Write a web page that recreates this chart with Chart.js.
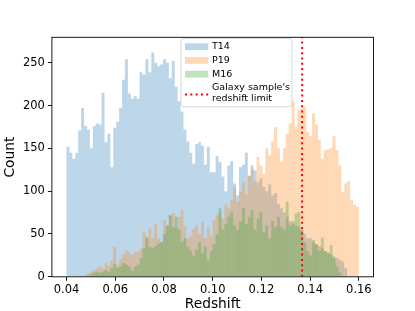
<!DOCTYPE html>
<html><head><meta charset="utf-8">
<script src="https://cdn.jsdelivr.net/npm/chart.js@4/dist/chart.umd.min.js"></script>
<style>html,body{margin:0;padding:0;background:#fff;}canvas{display:block;}</style>
</head><body>
<canvas id="c" width="415" height="311"></canvas>
<script>
// ---- data ----
const binStart = 0.04;
const binEnd = 0.16;
const t14 = [152,145,138,145,171,197,176,172,150,176,179,178,215,157,167,128,174,181,197,230,
             254,214,208,211,208,239,236,254,239,262,250,246,248,254,250,232,252,222,205,193,
             172,158,145,132,155,157,153,131,152,122,122,141,134,117,100,130,135,109,95,128,
             131,145,118,130,124,110,115,105,100,108,95,98,85,80,75,70,65,62,60,58,
             55,50,45,45,40,38,36,33,30,28,26,24,22,20,18,10,0,0,0,0];
const p19 = [0,0,0,0,0,1,2,4,6,8,10,12,9,16,13,19,35,14,21,26,
             31,28,26,29,29,33,52,47,56,45,62,45,41,66,60,72,75,58,70,78,
             60,45,48,56,60,50,64,45,58,48,66,72,75,68,84,80,90,105,88,100,
             110,96,118,125,112,140,130,120,150,142,158,175,150,134,150,167,179,205,175,195,
             197,199,169,164,191,178,160,138,148,149,150,164,148,130,99,109,112,90,84,82];
const m16 = [0,0,0,0,0,0,0,1,3,5,6,5,6,8,6,10,15,10,12,16,
             14,12,7,12,14,22,33,45,35,33,36,39,40,50,60,72,58,70,55,41,
             45,35,30,25,32,40,28,35,19,30,38,50,80,55,62,70,75,60,55,65,
             80,62,70,78,55,68,75,52,60,45,65,58,70,58,55,88,60,65,74,76,
             55,40,30,25,43,38,30,46,30,28,37,22,12,5,0,0,0,0,0,0];
const seriesNames = ['T14','P19','M16'];
const limitLabel = ["Galaxy sample's", 'redshift limit'];
const redshiftLimit = 0.1367;
const xTicks = [0.04,0.06,0.08,0.10,0.12,0.14,0.16];
const yTicks = [0,50,100,150,200,250];
const xLabel = 'Redshift';
const yLabel = 'Count';

// ---- build ----
const nBins = t14.length;
const binW = (binEnd - binStart) / nBins;
const centers = t14.map((_, i) => binStart + binW * (i + 0.5));
const toPts = arr => arr.map((v, i) => ({x: centers[i], y: v}));
const colors = ['rgba(31,119,180,0.3)','rgba(255,127,14,0.3)','rgba(44,160,44,0.3)'];
const FONT = "'DejaVu Sans', sans-serif";
const yMax = 279.7;

const framePlugin = {
  id: 'frame',
  afterDatasetsDraw(chart) {
    const {ctx, chartArea: a} = chart;
    ctx.save();
    ctx.strokeStyle = '#000';
    ctx.lineWidth = 0.9;
    ctx.strokeRect(a.left, a.top, a.right - a.left, a.bottom - a.top);
    ctx.restore();
  }
};

const legendPlugin = {
  id: 'mplLegend',
  afterDraw(chart) {
    const ctx = chart.ctx;
    ctx.save();
    const x0 = 181, y0 = 38.5, w = 111, h = 68.2, r = 2.5;
    ctx.beginPath();
    ctx.moveTo(x0 + r, y0);
    ctx.arcTo(x0 + w, y0, x0 + w, y0 + h, r);
    ctx.arcTo(x0 + w, y0 + h, x0, y0 + h, r);
    ctx.arcTo(x0, y0 + h, x0, y0, r);
    ctx.arcTo(x0, y0, x0 + w, y0, r);
    ctx.closePath();
    ctx.fillStyle = 'rgba(255,255,255,0.8)';
    ctx.fill();
    ctx.strokeStyle = 'rgba(204,204,204,0.8)';
    ctx.lineWidth = 1;
    ctx.stroke();
    ctx.font = '9.5px ' + FONT;
    ctx.fillStyle = '#000';
    ctx.textBaseline = 'middle';
    const cy = [46.7, 60.4, 74.2];
    seriesNames.forEach((n, i) => {
      ctx.fillStyle = colors[i];
      ctx.fillRect(185, cy[i] - 3.4, 23.3, 6.8);
      ctx.fillStyle = '#000';
      ctx.fillText(n, 212, cy[i]);
    });
    ctx.fillText(limitLabel[0], 212, 88);
    ctx.fillText(limitLabel[1], 212, 98.3);
    ctx.strokeStyle = 'red';
    ctx.lineWidth = 2;
    ctx.setLineDash([2, 3.3]);
    ctx.beginPath();
    ctx.moveTo(185, 94.5);
    ctx.lineTo(208.3, 94.5);
    ctx.stroke();
    ctx.restore();
  }
};

const barDs = (i, arr, ord) => ({
  type: 'bar', label: seriesNames[i], data: toPts(arr),
  backgroundColor: colors[i], borderWidth: 0, grouped: false, inflateAmount: 0,
  categoryPercentage: 1, barPercentage: 1, order: ord
});

new Chart(document.getElementById('c'), {
  type: 'bar',
  data: {
    datasets: [
      barDs(0, t14, 3),
      barDs(1, p19, 2),
      barDs(2, m16, 1),
      { type: 'line', label: limitLabel.join(' '),
        data: [{x: redshiftLimit, y: 0}, {x: redshiftLimit, y: yMax}],
        borderColor: 'red', borderWidth: 2, borderDash: [2, 3.3],
        pointRadius: 0, fill: false, order: 0 }
    ]
  },
  options: {
    responsive: false, animation: false, devicePixelRatio: 1,
    layout: {padding: {top: 37.3, right: 41.5, left: 0, bottom: 0}},
    plugins: {legend: {display: false}, tooltip: {enabled: false}},
    scales: {
      x: {
        type: 'linear', min: 0.034, max: 0.166, offset: false,
        grid: {display: true, offset: false, drawOnChartArea: false, drawTicks: true, tickLength: 4, color: '#000', lineWidth: 0.9},
        border: {display: false},
        ticks: {color: '#000', font: {family: FONT, size: 11.5}, padding: 2, maxRotation: 0,
                callback: v => v.toFixed(2)},
        title: {display: true, text: xLabel, color: '#000', font: {family: FONT, size: 13.8, lineHeight: 1}, padding: {top: 0, bottom: 0}},
        afterBuildTicks: s => { s.ticks = xTicks.map(v => ({value: v})); },
        afterFit: s => { s.height = 34.2; }
      },
      y: {
        type: 'linear', min: 0, max: yMax,
        grid: {display: true, drawOnChartArea: false, drawTicks: true, tickLength: 4, color: '#000', lineWidth: 0.9},
        border: {display: false},
        ticks: {color: '#000', font: {family: FONT, size: 11.5}, padding: 3, callback: v => String(v)},
        title: {display: true, text: yLabel, color: '#000', font: {family: FONT, size: 13.8, lineHeight: 1}, padding: {top: 3.3, bottom: 0}},
        afterBuildTicks: s => { s.ticks = yTicks.map(v => ({value: v})); },
        afterFit: s => { s.width = 51.9; }
      }
    }
  },
  plugins: [framePlugin, legendPlugin]
});
</script>
</body></html>
